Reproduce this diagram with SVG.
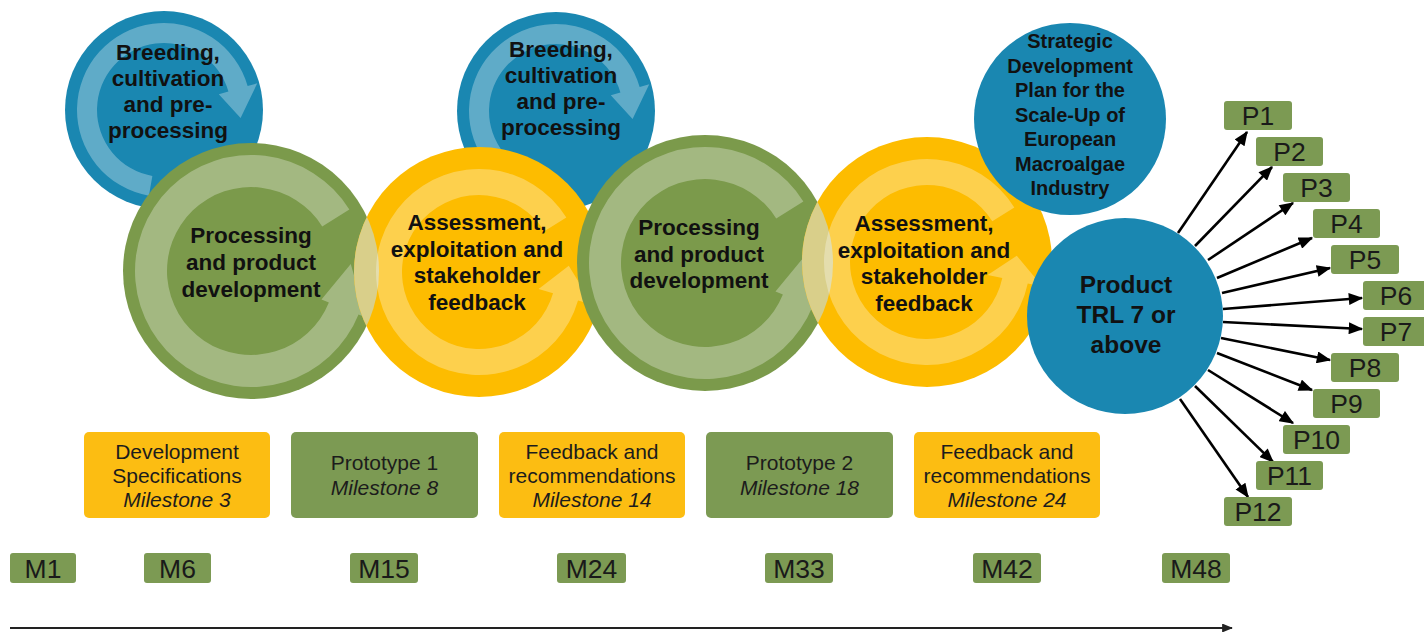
<svg xmlns="http://www.w3.org/2000/svg" width="1424" height="632" viewBox="0 0 1424 632">
  <style>
    .blue { fill: #1a87b1; }
    .green { fill: #7b9a4b; }
    .yellow { fill: #fdbc00; }
    .ring { fill: #ffffff; fill-opacity: 0.3; }
    .lens { fill: #d9cf8a; }
    .head { font-family: "Liberation Sans", Arial, sans-serif; font-weight: bold; font-size: 22.5px; fill: #111; text-anchor: middle; }
    .plan { font-family: "Liberation Sans", Arial, sans-serif; font-weight: bold; font-size: 20px; fill: #111; text-anchor: middle; }
    .prod { font-family: "Liberation Sans", Arial, sans-serif; font-weight: bold; font-size: 24.5px; fill: #111; text-anchor: middle; }
    .mbox-y { fill: #fcbd12; }
    .mbox-g { fill: #7c9a53; }
    .mtext { font-family: "Liberation Sans", Arial, sans-serif; font-size: 21px; fill: #1c1c1c; text-anchor: middle; }
    .it { font-style: italic; }
    .tag { fill: #7c9a53; }
    .tagtext { font-family: "Liberation Sans", Arial, sans-serif; font-size: 26.5px; fill: #1a1a1a; text-anchor: middle; }
    .conn { stroke: #000; stroke-width: 2.6; fill: none; marker-end: url(#ah); }
  </style>
  <defs>
    <marker id="ah" viewBox="0 0 12 10" refX="11" refY="5" markerWidth="15" markerHeight="12" markerUnits="userSpaceOnUse" orient="auto">
      <path d="M0,0 L12,5 L0,10 Z" fill="#000"/>
    </marker>
    <marker id="ah-time" viewBox="0 0 12 10" refX="11" refY="5" markerWidth="13" markerHeight="9" markerUnits="userSpaceOnUse" orient="auto">
      <path d="M0,0 L12,5 L0,10 Z" fill="#222"/>
    </marker>
    <clipPath id="clip-y1"><circle cx="479" cy="272" r="125"/></clipPath>
    <clipPath id="clip-y2"><circle cx="927" cy="262" r="125"/></clipPath>
  </defs>

  <rect width="1424" height="632" fill="#ffffff"/>

  <!-- upper cultivation cycles -->
  <g id="node-breeding-1">
    <circle class="blue" cx="164" cy="110" r="99"/>
    <path class="ring" d="M148.90,195.68 A87,87 0 1 1 247.63,86.02 L257.25,83.27 L240.58,118.05 L218.79,94.29 L228.41,91.53 A67,67 0 1 0 152.37,175.98 Z"/>
    <text class="head" x="168" y="60">Breeding,</text>
    <text class="head" x="168" y="86">cultivation</text>
    <text class="head" x="168" y="112">and pre-</text>
    <text class="head" x="168" y="138">processing</text>
  </g>

  <g id="node-breeding-2">
    <circle class="blue" cx="556" cy="111" r="99"/>
    <path class="ring" d="M540.90,196.68 A87,87 0 1 1 639.63,87.02 L649.25,84.27 L632.58,119.05 L610.79,95.29 L620.41,92.53 A67,67 0 1 0 544.37,176.98 Z"/>
    <text class="head" x="561" y="57">Breeding,</text>
    <text class="head" x="561" y="83">cultivation</text>
    <text class="head" x="561" y="109">and pre-</text>
    <text class="head" x="561" y="135">processing</text>
  </g>

  <!-- main development cycle -->
  <g id="node-processing-1">
    <circle class="green" cx="251" cy="271" r="128"/>
    <path class="ring" d="M349.37,209.53 A116,116 0 1 0 358.55,314.45 L365.97,317.45 L350.76,264.02 L321.47,299.47 L328.88,302.47 A84,84 0 1 1 322.23,226.49 Z"/>
    <text class="head" x="251" y="243">Processing</text>
    <text class="head" x="251" y="270">and product</text>
    <text class="head" x="251" y="297">development</text>
  </g>

  <g id="node-assessment-1">
    <circle class="yellow" cx="479" cy="272" r="125"/>
    <circle class="lens" cx="251" cy="271" r="128" clip-path="url(#clip-y1)"/>
    <path class="ring" d="M566.34,217.42 A103,103 0 1 0 578.01,300.39 L592.43,304.52 L568.78,265.72 L538.60,289.09 L553.02,293.22 A77,77 0 1 1 544.30,231.20 Z"/>
    <text class="head" x="477" y="230">Assessment,</text>
    <text class="head" x="477" y="257">exploitation and</text>
    <text class="head" x="477" y="283">stakeholder</text>
    <text class="head" x="477" y="310">feedback</text>
  </g>

  <g id="node-processing-2">
    <circle class="green" cx="705" cy="263" r="128"/>
    <path class="ring" d="M803.37,201.53 A116,116 0 1 0 812.55,306.45 L819.97,309.45 L804.76,256.02 L775.47,291.47 L782.88,294.47 A84,84 0 1 1 776.23,218.49 Z"/>
    <text class="head" x="699" y="235">Processing</text>
    <text class="head" x="699" y="262">and product</text>
    <text class="head" x="699" y="288">development</text>
  </g>

  <g id="node-assessment-2">
    <circle class="yellow" cx="927" cy="262" r="125"/>
    <circle class="lens" cx="705" cy="263" r="128" clip-path="url(#clip-y2)"/>
    <path class="ring" d="M1014.34,207.42 A103,103 0 1 0 1027.75,283.41 L1042.42,286.53 L1016.78,255.72 L987.64,274.89 L1002.31,278.01 A77,77 0 1 1 992.30,221.20 Z"/>
    <text class="head" x="924" y="231">Assessment,</text>
    <text class="head" x="924" y="257.5">exploitation and</text>
    <text class="head" x="924" y="284">stakeholder</text>
    <text class="head" x="924" y="310.5">feedback</text>
  </g>

  <g id="node-strategic-plan">
    <circle class="blue" cx="1070" cy="119" r="96"/>
    <text class="plan" x="1070" y="48">Strategic</text>
    <text class="plan" x="1070" y="72.5">Development</text>
    <text class="plan" x="1070" y="97">Plan for the</text>
    <text class="plan" x="1070" y="121.5">Scale-Up of</text>
    <text class="plan" x="1070" y="146">European</text>
    <text class="plan" x="1070" y="170.5">Macroalgae</text>
    <text class="plan" x="1070" y="195">Industry</text>
  </g>

  <g id="node-product">
    <circle class="blue" cx="1125" cy="316" r="98"/>
    <text class="prod" x="1126" y="293">Product</text>
    <text class="prod" x="1126" y="323">TRL 7 or</text>
    <text class="prod" x="1126" y="353">above</text>
  </g>

  <!-- product fan-out arrows -->
  <g id="connectors">
    <line class="conn" x1="1178" y1="233" x2="1247" y2="132"/>
    <line class="conn" x1="1195" y1="246" x2="1272" y2="167"/>
    <line class="conn" x1="1208" y1="260" x2="1293" y2="203"/>
    <line class="conn" x1="1217" y1="278" x2="1312" y2="238"/>
    <line class="conn" x1="1222" y1="293" x2="1330" y2="268"/>
    <line class="conn" x1="1223" y1="309" x2="1362" y2="298"/>
    <line class="conn" x1="1223" y1="322" x2="1362" y2="329"/>
    <line class="conn" x1="1221" y1="338" x2="1330" y2="360"/>
    <line class="conn" x1="1217" y1="353" x2="1312" y2="390"/>
    <line class="conn" x1="1208" y1="370" x2="1293" y2="423"/>
    <line class="conn" x1="1195" y1="386" x2="1273" y2="462"/>
    <line class="conn" x1="1180" y1="399" x2="1248" y2="497"/>
  </g>

  <!-- product tags -->
  <g id="node-p1"><rect class="tag" x="1224" y="101" width="68" height="29" rx="3"/><text class="tagtext" x="1258" y="125">P1</text></g>
  <g id="node-p2"><rect class="tag" x="1256" y="137" width="67" height="29" rx="3"/><text class="tagtext" x="1289.5" y="161">P2</text></g>
  <g id="node-p3"><rect class="tag" x="1283" y="173" width="67" height="29" rx="3"/><text class="tagtext" x="1316.5" y="197">P3</text></g>
  <g id="node-p4"><rect class="tag" x="1313" y="209" width="67" height="29" rx="3"/><text class="tagtext" x="1346.5" y="233">P4</text></g>
  <g id="node-p5"><rect class="tag" x="1331" y="245" width="68" height="29" rx="3"/><text class="tagtext" x="1365" y="269">P5</text></g>
  <g id="node-p6"><rect class="tag" x="1363" y="281" width="68" height="29" rx="3"/><text class="tagtext" x="1396" y="305">P6</text></g>
  <g id="node-p7"><rect class="tag" x="1363" y="317" width="68" height="29" rx="3"/><text class="tagtext" x="1396" y="341">P7</text></g>
  <g id="node-p8"><rect class="tag" x="1331" y="353" width="68" height="29" rx="3"/><text class="tagtext" x="1365" y="377">P8</text></g>
  <g id="node-p9"><rect class="tag" x="1313" y="389" width="67" height="29" rx="3"/><text class="tagtext" x="1346.5" y="413">P9</text></g>
  <g id="node-p10"><rect class="tag" x="1283" y="425" width="67" height="29" rx="3"/><text class="tagtext" x="1316.5" y="449">P10</text></g>
  <g id="node-p11"><rect class="tag" x="1256" y="461" width="67" height="29" rx="3"/><text class="tagtext" x="1289.5" y="485">P11</text></g>
  <g id="node-p12"><rect class="tag" x="1224" y="497" width="68" height="29" rx="3"/><text class="tagtext" x="1258" y="521">P12</text></g>

  <!-- milestone deliverables -->
  <g id="node-milestone-3">
    <rect class="mbox-y" x="84" y="432" width="186" height="86" rx="5"/>
    <text class="mtext" x="177" y="459">Development</text>
    <text class="mtext" x="177" y="483">Specifications</text>
    <text class="mtext it" x="177" y="507">Milestone 3</text>
  </g>
  <g id="node-milestone-8">
    <rect class="mbox-g" x="291" y="432" width="187" height="86" rx="5"/>
    <text class="mtext" x="384.5" y="470">Prototype 1</text>
    <text class="mtext it" x="384.5" y="495">Milestone 8</text>
  </g>
  <g id="node-milestone-14">
    <rect class="mbox-y" x="499" y="432" width="186" height="86" rx="5"/>
    <text class="mtext" x="592" y="459">Feedback and</text>
    <text class="mtext" x="592" y="483">recommendations</text>
    <text class="mtext it" x="592" y="507">Milestone 14</text>
  </g>
  <g id="node-milestone-18">
    <rect class="mbox-g" x="706" y="432" width="187" height="86" rx="5"/>
    <text class="mtext" x="799.5" y="470">Prototype 2</text>
    <text class="mtext it" x="799.5" y="495">Milestone 18</text>
  </g>
  <g id="node-milestone-24">
    <rect class="mbox-y" x="914" y="432" width="186" height="86" rx="5"/>
    <text class="mtext" x="1007" y="459">Feedback and</text>
    <text class="mtext" x="1007" y="483">recommendations</text>
    <text class="mtext it" x="1007" y="507">Milestone 24</text>
  </g>

  <!-- month markers -->
  <g id="node-m1"><rect class="tag" x="10" y="553" width="66" height="30" rx="3"/><text class="tagtext" x="43" y="578">M1</text></g>
  <g id="node-m6"><rect class="tag" x="144" y="553" width="67" height="30" rx="3"/><text class="tagtext" x="177.5" y="578">M6</text></g>
  <g id="node-m15"><rect class="tag" x="350" y="553" width="68" height="30" rx="3"/><text class="tagtext" x="384" y="578">M15</text></g>
  <g id="node-m24"><rect class="tag" x="557" y="553" width="69" height="30" rx="3"/><text class="tagtext" x="591.5" y="578">M24</text></g>
  <g id="node-m33"><rect class="tag" x="765" y="553" width="68" height="30" rx="3"/><text class="tagtext" x="799" y="578">M33</text></g>
  <g id="node-m42"><rect class="tag" x="973" y="553" width="68" height="30" rx="3"/><text class="tagtext" x="1007" y="578">M42</text></g>
  <g id="node-m48"><rect class="tag" x="1162" y="553" width="68" height="30" rx="3"/><text class="tagtext" x="1196" y="578">M48</text></g>

  <!-- timeline -->
  <g id="timeline">
    <line x1="10" y1="628" x2="1232" y2="628" stroke="#222" stroke-width="2" marker-end="url(#ah-time)"/>
  </g>
</svg>
